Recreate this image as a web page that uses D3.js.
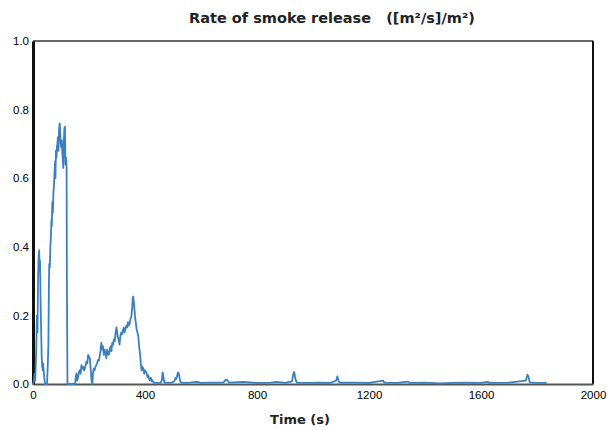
<!DOCTYPE html>
<html>
<head>
<meta charset="utf-8">
<script src="https://cdn.jsdelivr.net/npm/d3@7"></script>
<style>
  body { margin: 0; background: #fff; }
  text { font-family: "Liberation Sans", Arial, sans-serif; }
</style>
</head>
<body>
<svg id="chart" width="608" height="430"></svg>
<script>
// time (s) and smoke release rate ((m2/s)/m2)
var times = [
    0, 3, 6, 8, 10, 12, 14, 16, 18, 20, 22, 24, 25, 27, 28, 30, 31, 33, 35, 36, 38, 40, 43,
    47, 50, 53, 55, 57, 58, 60, 62, 64, 66, 67, 69, 71, 73, 75, 77, 79, 80, 82, 84, 85, 87,
    89, 91, 93, 95, 96, 98, 99, 101, 103, 105, 107, 108, 110, 112, 114, 116, 118, 120, 121, 123,
    130, 140, 150, 153, 155, 158, 161, 164, 167, 170, 173, 176, 179, 182, 185, 188, 191, 194,
    197, 200, 203, 206, 209, 212, 214, 217, 220, 223, 226, 229, 232, 235, 238, 241, 244, 247,
    250, 253, 256, 259, 262, 265, 268, 271, 274, 277, 280, 283, 286, 289, 292, 295, 298, 300,
    303, 306, 309, 312, 315, 318, 321, 324, 327, 330, 333, 336, 339, 342, 345, 348, 351, 354,
    356, 358, 360, 362, 364, 367, 370, 373, 376, 379, 382, 385, 388, 391, 394, 397, 400, 403,
    406, 409, 412, 415, 418, 421, 424, 427, 430, 436, 445, 455, 460, 463, 466, 469, 480, 495,
    505, 509, 512, 515, 518, 521, 524, 527, 540, 560, 585, 600, 640, 680, 688, 694, 700, 750,
    800, 850, 870, 900, 925, 930, 933, 937, 942, 980, 1020, 1060, 1083, 1087, 1091, 1095, 1150,
    1200, 1250, 1255, 1300, 1340, 1345, 1400, 1450, 1500, 1550, 1600, 1625, 1630, 1700, 1760,
    1766, 1770, 1774, 1800, 1835
];
var smoke = [
    0, 0.01, 0.03, 0.01, 0.06, 0.12, 0.2, 0.15, 0.3, 0.37, 0.39, 0.33, 0.36, 0.25, 0.2, 0.12, 0.08, 0.05, 0.04, 0.06, 0.04, 0.02, 0,
    0, 0, 0.06, 0.12, 0.3, 0.35, 0.34, 0.4, 0.43, 0.48, 0.46, 0.53, 0.5, 0.56, 0.58, 0.62, 0.65, 0.6, 0.68, 0.66, 0.69, 0.7,
    0.72, 0.68, 0.74, 0.76, 0.755, 0.72, 0.7, 0.69, 0.71, 0.67, 0.65, 0.63, 0.7, 0.745, 0.75, 0.64, 0.66, 0.63, 0.31, 0,
    0, 0, 0, 0.02, 0.031, 0.01, 0.02, 0.035, 0.04, 0.03, 0.055, 0.045, 0.05, 0.04, 0.045, 0.055, 0.065, 0.06,
    0.085, 0.08, 0.075, 0.045, 0.01, 0, 0.03, 0.045, 0.04, 0.05, 0.055, 0.06, 0.07, 0.068, 0.08, 0.095, 0.12, 0.1,
    0.11, 0.085, 0.1, 0.09, 0.075, 0.1, 0.09, 0.085, 0.1, 0.11, 0.095, 0.12, 0.115, 0.13, 0.125, 0.15, 0.165, 0.155,
    0.135, 0.13, 0.115, 0.14, 0.15, 0.145, 0.155, 0.165, 0.15, 0.16, 0.17, 0.165, 0.18, 0.17, 0.175, 0.19, 0.195, 0.22,
    0.25, 0.255, 0.24, 0.22, 0.2, 0.18, 0.16, 0.15, 0.14, 0.11, 0.09, 0.06, 0.04, 0.05, 0.045, 0.03, 0.04, 0.035,
    0.03, 0.02, 0.025, 0.015, 0.01, 0.018, 0.008, 0.01, 0.005, 0.003, 0.003, 0.003, 0.01, 0.034, 0.02, 0.005, 0.003, 0.004,
    0.008, 0.018, 0.015, 0.025, 0.034, 0.03, 0.015, 0.005, 0.003, 0.004, 0.006, 0.003, 0.004, 0.004, 0.012, 0.011, 0.004, 0.006,
    0.003, 0.004, 0.006, 0.003, 0.008, 0.03, 0.035, 0.015, 0.004, 0.003, 0.004, 0.003, 0.01, 0.022, 0.01, 0.004, 0.004,
    0.003, 0.01, 0.004, 0.003, 0.007, 0.003, 0.004, 0.002, 0.003, 0.004, 0.003, 0.006, 0.003, 0.004, 0.01,
    0.027, 0.02, 0.005, 0.003, 0.003
];
var xTicks = [0, 400, 800, 1200, 1600, 2000];
var yTicks = [0, 0.2, 0.4, 0.6, 0.8, 1.0];

var svg = d3.select("#chart"),
    margin = { top: 41, right: 15, bottom: 46, left: 33 },
    width = 608 - margin.left - margin.right,
    height = 430 - margin.top - margin.bottom,
    g = svg.append("g").attr("transform", "translate(" + margin.left + "," + margin.top + ")")
;

var x = d3.scaleLinear().domain([0, 2000]).range([0, width]),
    y = d3.scaleLinear().domain([0, 1]).range([height, 0]);

var points = times.map((t, i) => [t, smoke[i]]);

// frame: thin top, heavy left
g.append("line").attr("x1", 0).attr("x2", width).attr("y1", 0).attr("y2", 0)
    .attr("stroke", "#333").attr("stroke-width", 1.5);
g.append("line").attr("x1", width).attr("x2", width).attr("y1", 0).attr("y2", height)
    .attr("stroke", "#111").attr("stroke-width", 2);

var xAxis = g.append("g")
    .attr("transform", "translate(0," + height + ")")
    .call(d3.axisBottom(x).tickValues(xTicks).tickSize(0).tickPadding(7).tickFormat(d3.format("d")));
xAxis.select(".domain").attr("stroke", "#555").attr("stroke-width", 2);

var yAxis = g.append("g")
    .call(d3.axisLeft(y).tickValues(yTicks).tickSize(0).tickPadding(4).tickFormat(d3.format(".1f")));
yAxis.select(".domain").attr("stroke", "#111").attr("stroke-width", 3);

svg.selectAll(".tick text").attr("font-size", 11.5).attr("fill", "#000")
    .style("font-family", "'Liberation Sans', Arial, sans-serif");

g.append("path")
    .datum(points)
    .attr("fill", "none")
    .attr("stroke", "#3a80c1")
    .attr("stroke-width", 1.8)
    .attr("stroke-linejoin", "round")
    .attr("d", d3.line().x(d => x(d[0])).y(d => y(d[1])));

svg.append("text")
    .attr("x", 332).attr("y", 23)
    .attr("text-anchor", "middle")
    .attr("font-size", 14.5).attr("font-weight", "bold").attr("fill", "#222")
    .style("font-family", "'DejaVu Sans', sans-serif")
    .attr("xml:space", "preserve")
    .text("Rate of smoke release   ([m²/s]/m²)");

svg.append("text")
    .attr("x", 300).attr("y", 424)
    .attr("text-anchor", "middle")
    .attr("font-size", 13).attr("font-weight", "bold").attr("fill", "#222")
    .style("font-family", "'DejaVu Sans', sans-serif")
    .text("Time (s)");
</script>
</body>
</html>
